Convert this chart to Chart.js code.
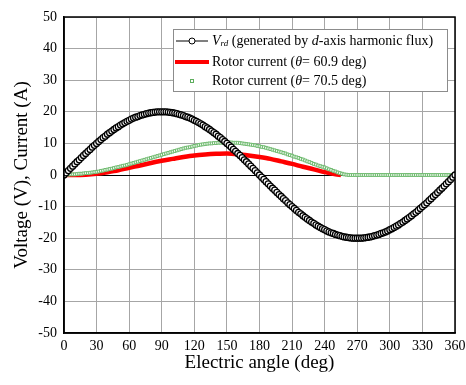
<!DOCTYPE html>
<html>
<head>
<meta charset="utf-8">
<script src="https://cdn.jsdelivr.net/npm/chart.js@4.4.1/dist/chart.umd.min.js"></script>
<style>
  html, body { margin: 0; padding: 0; background: #fff; }
  #wrap { width: 466px; height: 385px; position: relative; }
</style>
</head>
<body>
<div id="wrap"><canvas id="c"></canvas></div>
<script>
// x tick labels (deg)
const xTicks = [0, 30, 60, 90, 120, 150, 180, 210, 240, 270, 300, 330, 360];

// sample angles for Vrd and the 70.5 deg current (every 2 deg)
const angles = [
  0, 2, 4, 6, 8, 10, 12, 14, 16, 18, 20, 22, 24, 26, 28, 30, 32, 34, 36, 38,
  40, 42, 44, 46, 48, 50, 52, 54, 56, 58, 60, 62, 64, 66, 68, 70, 72, 74, 76, 78,
  80, 82, 84, 86, 88, 90, 92, 94, 96, 98, 100, 102, 104, 106, 108, 110, 112, 114, 116, 118,
  120, 122, 124, 126, 128, 130, 132, 134, 136, 138, 140, 142, 144, 146, 148, 150, 152, 154, 156, 158,
  160, 162, 164, 166, 168, 170, 172, 174, 176, 178, 180, 182, 184, 186, 188, 190, 192, 194, 196, 198,
  200, 202, 204, 206, 208, 210, 212, 214, 216, 218, 220, 222, 224, 226, 228, 230, 232, 234, 236, 238,
  240, 242, 244, 246, 248, 250, 252, 254, 256, 258, 260, 262, 264, 266, 268, 270, 272, 274, 276, 278,
  280, 282, 284, 286, 288, 290, 292, 294, 296, 298, 300, 302, 304, 306, 308, 310, 312, 314, 316, 318,
  320, 322, 324, 326, 328, 330, 332, 334, 336, 338, 340, 342, 344, 346, 348, 350, 352, 354, 356, 358,
  360
];

// Vrd (generated by d-axis harmonic flux), V
const vrd = [
  0, 0.7, 1.4, 2.1, 2.8, 3.5, 4.2, 4.8, 5.5, 6.2, 6.8, 7.5, 8.1, 8.8, 9.4, 10.0,
  10.6, 11.2, 11.8, 12.3, 12.9, 13.4, 13.9, 14.4, 14.9, 15.3, 15.8, 16.2, 16.6, 17.0, 17.3,
  17.7, 18.0, 18.3, 18.5, 18.8, 19.0, 19.2, 19.4, 19.6, 19.7, 19.8, 19.9, 20.0, 20.0, 20.0,
  20.0, 20.0, 19.9, 19.8, 19.7, 19.6, 19.4, 19.2, 19.0, 18.8, 18.5, 18.3, 18.0, 17.7, 17.3,
  17.0, 16.6, 16.2, 15.8, 15.3, 14.9, 14.4, 13.9, 13.4, 12.9, 12.3, 11.8, 11.2, 10.6, 10.0,
  9.4, 8.8, 8.1, 7.5, 6.8, 6.2, 5.5, 4.8, 4.2, 3.5, 2.8, 2.1, 1.4, 0.7, 0,
  -0.7, -1.4, -2.1, -2.8, -3.5, -4.2, -4.8, -5.5, -6.2, -6.8, -7.5, -8.1, -8.8, -9.4, -10.0,
  -10.6, -11.2, -11.8, -12.3, -12.9, -13.4, -13.9, -14.4, -14.9, -15.3, -15.8, -16.2, -16.6, -17.0, -17.3,
  -17.7, -18.0, -18.3, -18.5, -18.8, -19.0, -19.2, -19.4, -19.6, -19.7, -19.8, -19.9, -20.0, -20.0, -20.0,
  -20.0, -20.0, -19.9, -19.8, -19.7, -19.6, -19.4, -19.2, -19.0, -18.8, -18.5, -18.3, -18.0, -17.7, -17.3,
  -17.0, -16.6, -16.2, -15.8, -15.3, -14.9, -14.4, -13.9, -13.4, -12.9, -12.3, -11.8, -11.2, -10.6, -10.0,
  -9.4, -8.8, -8.1, -7.5, -6.8, -6.2, -5.5, -4.8, -4.2, -3.5, -2.8, -2.1, -1.4, -0.7, 0
];

// Rotor current (theta = 70.5 deg), A
const current705 = [
  0.1, 0.1, 0.1, 0.2, 0.2, 0.2, 0.3, 0.4, 0.4, 0.5, 0.6, 0.6, 0.7, 0.8, 0.9, 1.0,
  1.1, 1.3, 1.4, 1.6, 1.7, 1.9, 2.0, 2.2, 2.4, 2.5, 2.7, 2.9, 3.0, 3.2, 3.4,
  3.6, 3.8, 4.0, 4.2, 4.4, 4.6, 4.8, 5.0, 5.2, 5.4, 5.6, 5.8, 6.0, 6.2, 6.4,
  6.6, 6.8, 7.0, 7.2, 7.4, 7.6, 7.8, 8.0, 8.2, 8.4, 8.6, 8.7, 8.8, 9.0, 9.2,
  9.3, 9.5, 9.6, 9.7, 9.8, 9.9, 10.0, 10.0, 10.1, 10.1, 10.2, 10.2, 10.3, 10.3, 10.3,
  10.3, 10.3, 10.2, 10.2, 10.2, 10.1, 10.0, 9.9, 9.8, 9.7, 9.6, 9.5, 9.4, 9.2, 9.1,
  8.9, 8.8, 8.6, 8.4, 8.2, 8.0, 7.8, 7.6, 7.4, 7.2, 7.0, 6.8, 6.5, 6.3, 6.1,
  5.8, 5.6, 5.4, 5.1, 4.9, 4.6, 4.3, 4.1, 3.8, 3.5, 3.3, 3.0, 2.8, 2.6, 2.4,
  2.1, 1.8, 1.6, 1.3, 1.1, 0.8, 0.6, 0.4, 0.2, 0.1, 0, 0, 0, 0, 0,
  0, 0, 0, 0, 0, 0, 0, 0, 0, 0, 0, 0, 0, 0, 0,
  0, 0, 0, 0, 0, 0, 0, 0, 0, 0, 0, 0, 0, 0, 0,
  0, 0, 0, 0, 0, 0, 0, 0, 0, 0, 0, 0, 0, 0, 0
];

// Rotor current (theta = 60.9 deg), A
const angles609 = [0, 10, 20, 30, 40, 50, 60, 70, 80, 90, 100, 110, 120, 130, 140, 150, 160, 170, 180, 190, 200, 210, 220, 230, 240, 250, 255];
const current609 = [0, 0, 0.1, 0.4, 0.9, 1.5, 2.3, 3.0, 3.8, 4.5, 5.1, 5.7, 6.2, 6.5, 6.7, 6.8, 6.6, 6.2, 5.7, 5.1, 4.3, 3.5, 2.6, 1.8, 0.9, 0.2, 0];

const SERIF = "'Liberation Serif', 'Times New Roman', serif";

const toXY = (xs, ys) => xs.map((x, i) => ({ x, y: ys[i] }));

// legend entries drawn inside the plot, text split into styled runs
const legendRows = [
  { kind: 'vrd', runs: [['V', 'italic', 14, 0], ['rd', 'italic', 9, 3], [' (generated by ', 'normal', 14, 0], ['d', 'italic', 14, 0], ['-axis harmonic flux)', 'normal', 14, 0]] },
  { kind: 'red', runs: [['Rotor current (', 'normal', 14, 0], ['\u03B8', 'italic', 14, 0], ['= 60.9 deg)', 'normal', 14, 0]] },
  { kind: 'green', runs: [['Rotor current (', 'normal', 14, 0], ['\u03B8', 'italic', 14, 0], ['= 70.5 deg)', 'normal', 14, 0]] }
];

const framePlugin = {
  id: 'frame',
  afterDatasetsDraw(chart) {
    const { ctx, chartArea: a } = chart;
    ctx.save();
    ctx.strokeStyle = '#000';
    ctx.lineWidth = 1.5;
    ctx.strokeRect(a.left, a.top, a.right - a.left, a.bottom - a.top);

    // legend box
    const bx = 173, by = 29, bw = 274, bh = 62;
    ctx.fillStyle = '#fff';
    ctx.fillRect(bx, by, bw, bh);
    ctx.strokeStyle = '#8c8c8c';
    ctx.lineWidth = 1;
    ctx.strokeRect(bx + 0.5, by + 0.5, bw, bh);

    const rowY = [41, 62, 81];
    legendRows.forEach((row, i) => {
      const y = rowY[i];
      if (row.kind === 'vrd') {
        ctx.strokeStyle = '#000';
        ctx.lineWidth = 1;
        ctx.beginPath(); ctx.moveTo(176, y); ctx.lineTo(208, y); ctx.stroke();
        ctx.fillStyle = '#fff';
        ctx.beginPath(); ctx.arc(192, y, 3, 0, Math.PI * 2); ctx.fill(); ctx.stroke();
      } else if (row.kind === 'red') {
        ctx.strokeStyle = '#ff0000';
        ctx.lineWidth = 4;
        ctx.beginPath(); ctx.moveTo(175, y); ctx.lineTo(209, y); ctx.stroke();
      } else {
        ctx.strokeStyle = '#5fae5f';
        ctx.lineWidth = 1;
        ctx.fillStyle = '#fff';
        ctx.fillRect(190, y - 2, 4, 4);
        ctx.strokeRect(190.5, y - 1.5, 3, 3);
      }
      let x = 212;
      ctx.fillStyle = '#000';
      ctx.textBaseline = 'middle';
      row.runs.forEach(([t, style, size, dy]) => {
        ctx.font = `${style} ${size}px ${SERIF}`;
        ctx.fillText(t, x, y + dy);
        x += ctx.measureText(t).width;
      });
    });
    ctx.restore();
  }
};

new Chart(document.getElementById('c'), {
  type: 'line',
  data: {
    datasets: [
      {
        label: 'Vrd (generated by d-axis harmonic flux)',
        data: toXY(angles, vrd),
        borderColor: '#000',
        borderWidth: 1,
        pointStyle: 'circle',
        pointRadius: 3,
        pointBorderWidth: 1.3,
        pointBorderColor: '#000',
        pointBackgroundColor: '#fff',
        tension: 0
      },
      {
        label: 'Rotor current (\u03B8= 70.5 deg)',
        data: toXY(angles, current705),
        borderColor: '#2e8b2e',
        borderWidth: 1,
        pointStyle: 'rect',
        pointRadius: 2,
        pointBorderWidth: 1,
        pointBorderColor: '#6fba6f',
        pointBackgroundColor: '#f2faf2',
        tension: 0
      },
      {
        label: 'Rotor current (\u03B8= 60.9 deg)',
        data: toXY(angles609, current609),
        borderColor: '#ff0000',
        borderWidth: 4.5,
        pointRadius: 0,
        cubicInterpolationMode: 'monotone'
      }
    ]
  },
  options: {
    responsive: true,
    maintainAspectRatio: false,
    animation: false,
    layout: { padding: { left: 0, top: 17, right: 11, bottom: 0 } },
    plugins: {
      legend: { display: false },
      tooltip: { enabled: false }
    },
    scales: {
      x: {
        type: 'linear',
        min: 0,
        max: 360,
        afterBuildTicks: s => { s.ticks = xTicks.map(v => ({ value: v })); },
        afterFit: s => { s.height = 52; s.paddingLeft = 0; s.paddingRight = 0; },
        ticks: { color: '#000', font: { family: SERIF, size: 14 }, padding: 5, maxRotation: 0, autoSkip: false },
        grid: { color: '#a6a6a6', lineWidth: 1, drawTicks: false },
        border: { color: '#000', width: 1.5 },
        title: { display: true, text: 'Electric angle (deg)', color: '#000', font: { family: SERIF, size: 19 }, padding: { top: 0, bottom: 11 } }
      },
      y: {
        min: -50,
        max: 50,
        afterFit: s => { s.width = 64; },
        ticks: { stepSize: 10, color: '#000', font: { family: SERIF, size: 14 }, padding: 7 },
        grid: {
          color: c => (c.tick && c.tick.value === 0 ? '#000' : '#a6a6a6'),
          lineWidth: 1,
          drawTicks: false
        },
        border: { color: '#000', width: 1.5 },
        title: { display: true, text: 'Voltage (V), Current (A)', color: '#000', font: { family: SERIF, size: 19 }, padding: { top: 11, bottom: 0 } }
      }
    }
  },
  plugins: [framePlugin]
});
</script>
</body>
</html>
